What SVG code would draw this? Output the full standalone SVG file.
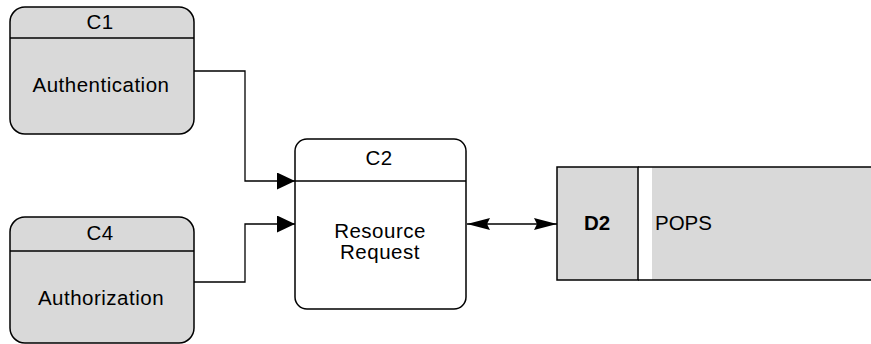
<svg xmlns="http://www.w3.org/2000/svg" width="871" height="344" viewBox="0 0 871 344">
<style>
text{font-family:"Liberation Sans",Arial,sans-serif;font-size:20.5px;fill:#000;text-anchor:middle;letter-spacing:0.5px}
.proc{fill:#d9d9d9;stroke:#000;stroke-width:1.5}
.proc2{fill:#fff;stroke:#000;stroke-width:1.5}
.ln{stroke:#000;stroke-width:1.5;fill:none}
.conn{stroke:#000;stroke-width:1.3;fill:none}
</style>
<defs>
<marker id="ah" viewBox="0 0 18 17" refX="18" refY="8.5" markerWidth="18" markerHeight="17" markerUnits="userSpaceOnUse" orient="auto-start-reverse">
<path d="M0,0 L18,8.5 L0,17 z" fill="#000"/>
</marker>
<marker id="ah2" viewBox="0 0 23 12" refX="23" refY="6" markerWidth="23" markerHeight="12" markerUnits="userSpaceOnUse" orient="auto-start-reverse">
<path d="M0,0 L23,6 L0,12 L3,6 z" fill="#000"/>
</marker>
</defs>
<g id="C1">
<rect class="proc" x="10" y="7" width="184" height="127" rx="15"/>
<line class="ln" x1="10" y1="38" x2="194" y2="38"/>
<text x="100" y="29">C1</text>
<text x="101" y="92">Authentication</text>
</g>
<g id="C4">
<rect class="proc" x="10" y="217" width="184" height="126" rx="15"/>
<line class="ln" x1="10" y1="251" x2="194" y2="251"/>
<text x="100" y="240">C4</text>
<text x="101" y="305">Authorization</text>
</g>
<g id="C2">
<rect class="proc2" x="295" y="139" width="171" height="170" rx="12"/>
<line class="ln" x1="295" y1="181" x2="466" y2="181"/>
<text x="379" y="165">C2</text>
<text x="380" y="238">Resource</text>
<text x="380" y="259">Request</text>
</g>
<g id="D2">
<rect x="652" y="167" width="219" height="113" fill="#d9d9d9"/>
<rect class="proc" x="557" y="167" width="81" height="113"/>
<line class="ln" x1="638" y1="167" x2="871" y2="167"/>
<line class="ln" x1="638" y1="280" x2="871" y2="280"/>
<text x="597" y="230" style="font-weight:bold;letter-spacing:0">D2</text>
<text x="655" y="230" style="text-anchor:start;letter-spacing:0">POPS</text>
</g>
<g id="connectors">
<path class="conn" d="M194,71 H245 V181 H295" marker-end="url(#ah)"/>
<path class="conn" d="M194,282 H245 V224 H295" marker-end="url(#ah)"/>
<path class="conn" d="M467,224 H557" marker-start="url(#ah2)" marker-end="url(#ah2)"/>
</g>
</svg>
